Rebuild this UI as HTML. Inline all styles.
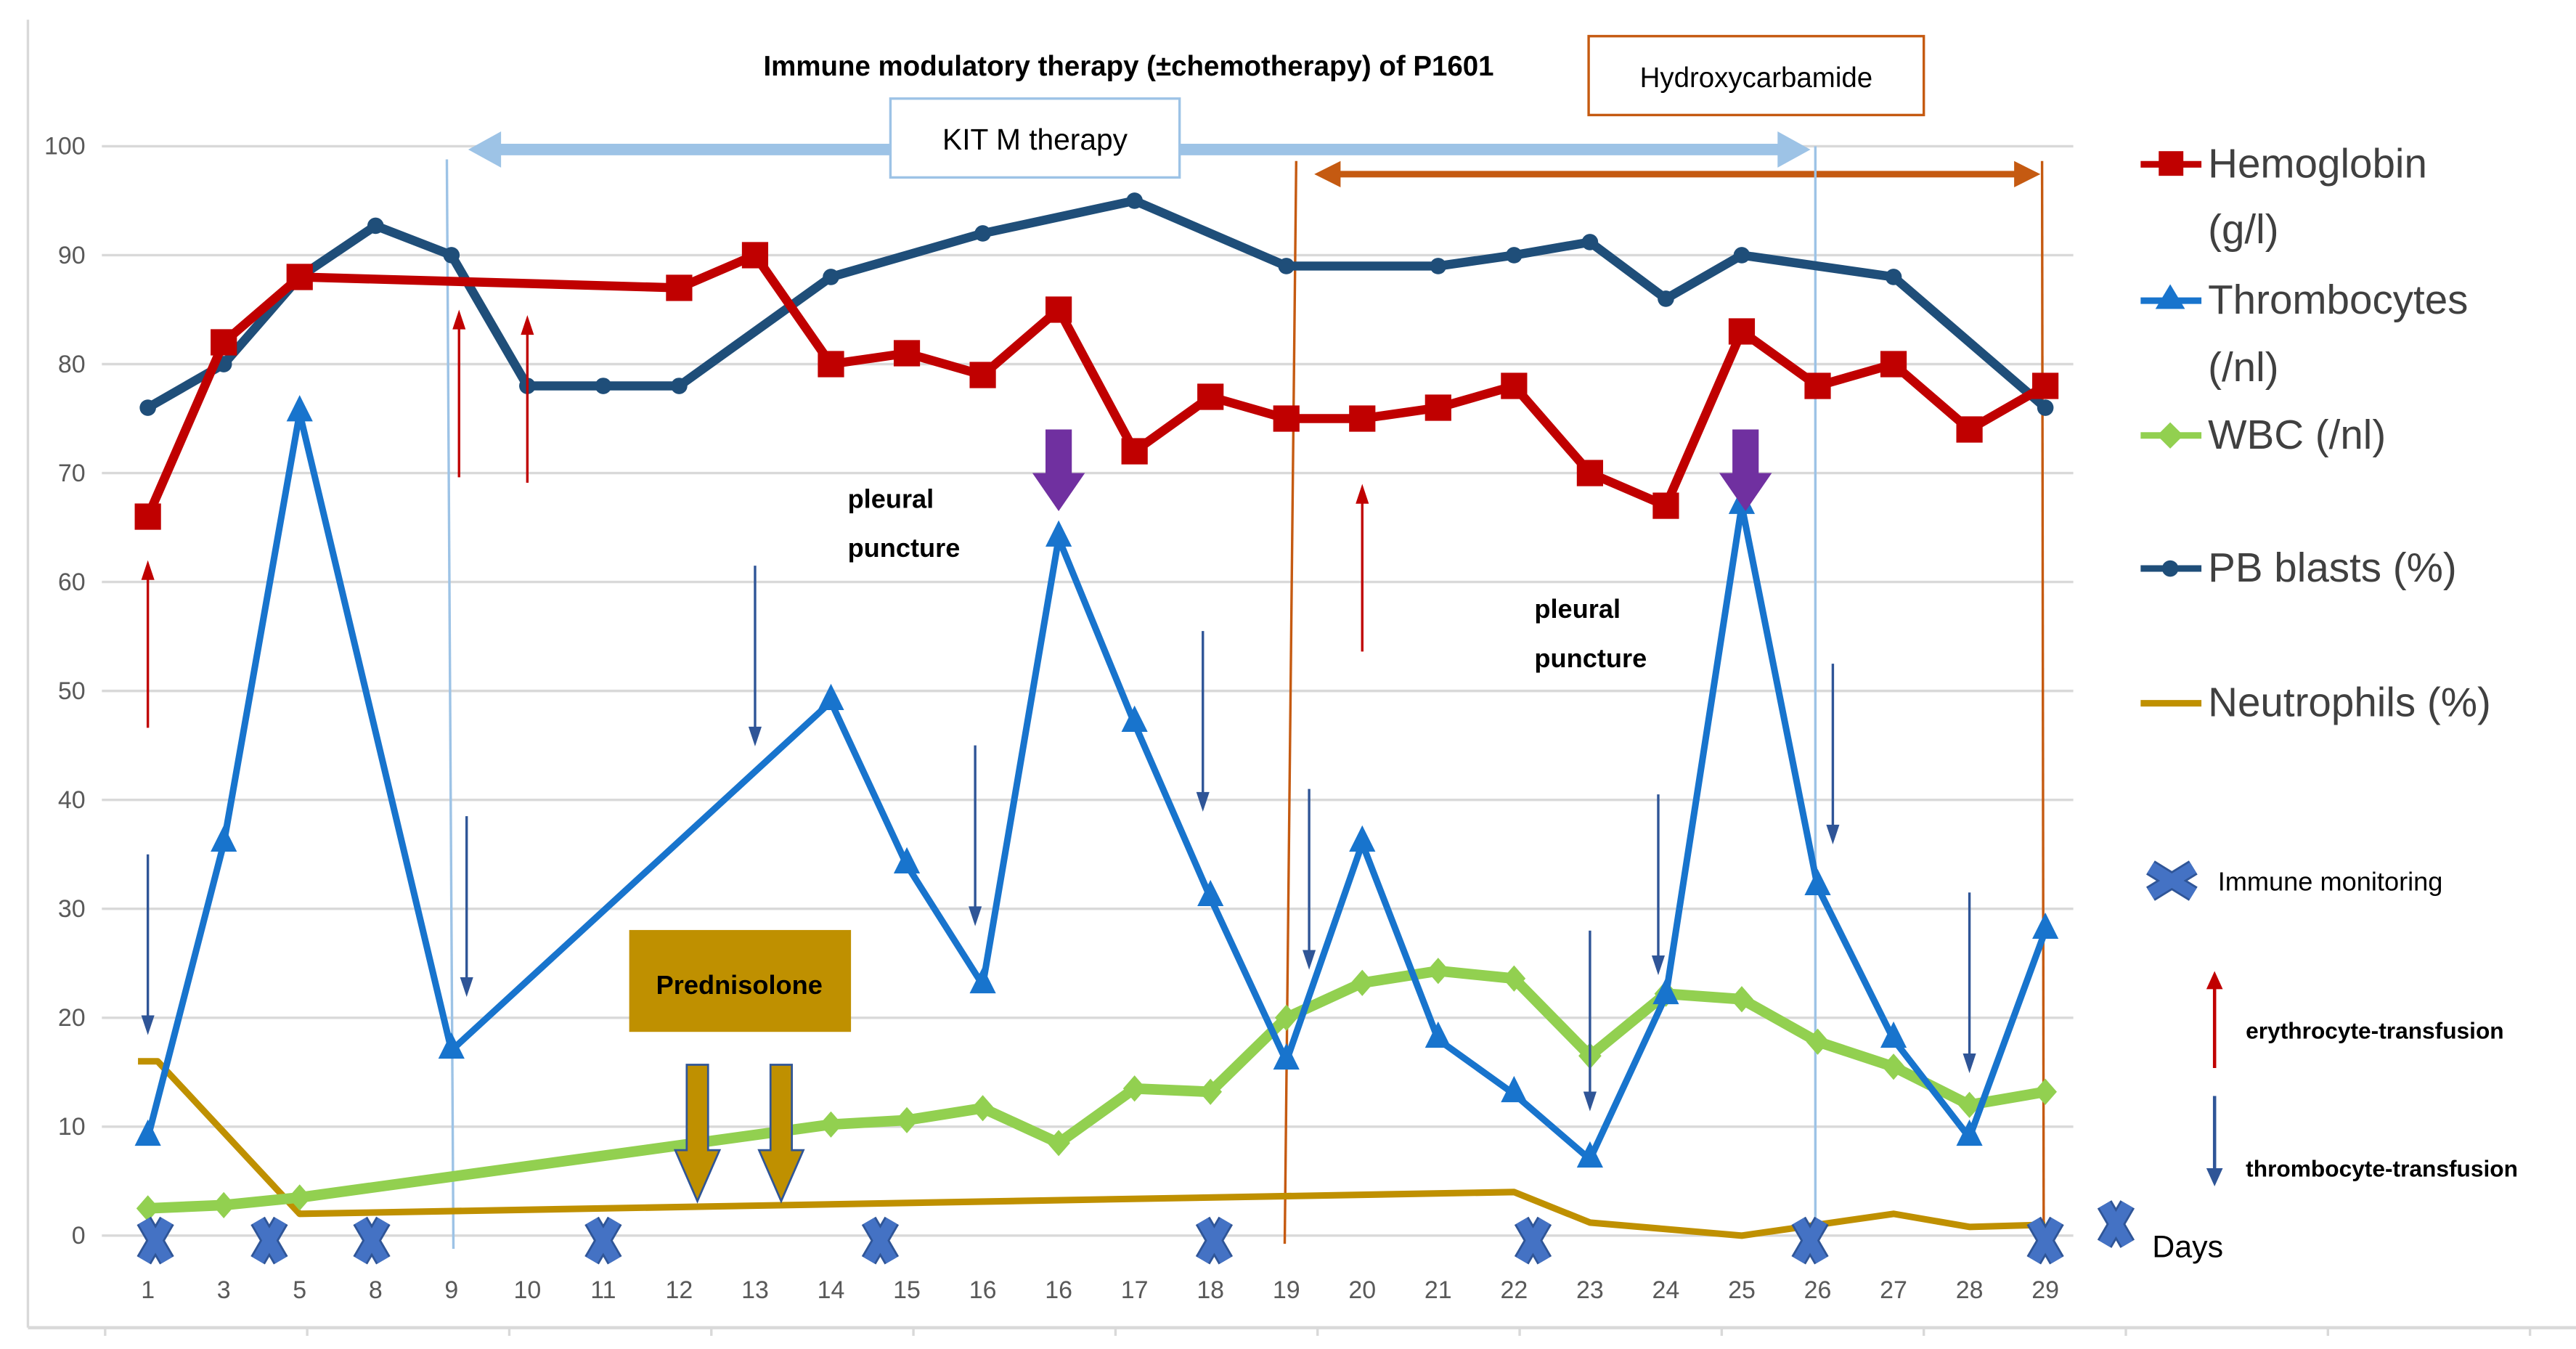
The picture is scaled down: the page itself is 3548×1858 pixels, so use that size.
<!DOCTYPE html>
<html><head><meta charset="utf-8"><style>
html,body{margin:0;padding:0;background:#fff;}
svg{display:block;font-family:"Liberation Sans",sans-serif;}
</style></head><body>
<svg id="chart" width="3548" height="1858" viewBox="0 0 1568 821" preserveAspectRatio="none" xmlns="http://www.w3.org/2000/svg">
<g id="frame">
<line x1="17" y1="12" x2="17" y2="808" stroke="#d9d9d9" stroke-width="1.5"/>
<line x1="17" y1="808" x2="1568" y2="808" stroke="#d9d9d9" stroke-width="2"/>
</g>
<g id="grid"></g>
<g id="yticks"></g>
<g id="xticks"></g>
<text x="687" y="46" text-anchor="middle" font-size="17" font-weight="bold" fill="#000">Immune modulatory therapy (±chemotherapy) of P1601</text>
<g>
<rect x="967" y="22" width="204" height="48" fill="#fff" stroke="#c55a11" stroke-width="1.5"/>
<text x="1069" y="53" text-anchor="middle" font-size="17" fill="#000">Hydroxycarbamide</text>
</g>
<g>
<line x1="300" y1="91" x2="1085" y2="91" stroke="#9dc3e6" stroke-width="7"/>
<polygon points="285,91 305,80 305,102" fill="#9dc3e6"/>
<polygon points="1102,91 1082,80 1082,102" fill="#9dc3e6"/>
</g>
<g>
<rect x="542" y="60" width="176" height="48" fill="#fff" stroke="#9dc3e6" stroke-width="1.5"/>
<text x="630" y="91" text-anchor="middle" font-size="18" fill="#000">KIT M therapy</text>
</g>
<g>
<line x1="812" y1="106" x2="1228" y2="106" stroke="#c55a11" stroke-width="4"/>
<polygon points="800,106 816,98 816,114" fill="#c55a11"/>
<polygon points="1242,106 1226,98 1226,114" fill="#c55a11"/>
</g>
<line x1="272" y1="97" x2="276" y2="760" stroke="#9dc3e6" stroke-width="1.5"/>
<line x1="1105" y1="89" x2="1105" y2="760" stroke="#9dc3e6" stroke-width="1.5"/>
<line x1="789" y1="98" x2="782" y2="757" stroke="#c55a11" stroke-width="1.5"/>
<line x1="1243" y1="98" x2="1244" y2="757" stroke="#c55a11" stroke-width="1.5"/>
<g id="series"></g>
<g id="annot"></g>
<g>
<rect x="383" y="566" width="135" height="62" fill="#bf9000"/>
<text x="450" y="605" text-anchor="middle" font-size="16" font-weight="bold" fill="#000">Prednisolone</text>
</g>
<g>
<polygon points="418,648 431,648 431,700 438,700 424.5,731 411,700 418,700" fill="#bf9000" stroke="#2f5597" stroke-width="1.2"/>
<polygon points="469,648 482,648 482,700 489,700 475.5,731 462,700 469,700" fill="#bf9000" stroke="#2f5597" stroke-width="1.2"/>
</g>
<g font-size="16" font-weight="bold" fill="#000">
<text x="516" y="309">pleural</text><text x="516" y="339">puncture</text>
<text x="934" y="376">pleural</text><text x="934" y="406">puncture</text>
</g>
<g id="legend" font-size="25" fill="#404040">
<g><line x1="1303" y1="100" x2="1340" y2="100" stroke="#c00000" stroke-width="4"/><rect x="1314" y="92" width="15" height="15" fill="#c00000"/><text x="1344" y="108">Hemoglobin</text><text x="1344" y="148">(g/l)</text></g>
<g><line x1="1303" y1="183" x2="1340" y2="183" stroke="#1874cd" stroke-width="4"/><polygon points="1321,173 1330,188 1312,188" fill="#1874cd"/><text x="1344" y="191">Thrombocytes</text><text x="1344" y="232">(/nl)</text></g>
<g><line x1="1303" y1="265" x2="1340" y2="265" stroke="#92d050" stroke-width="4"/><polygon points="1321,257 1329,265 1321,273 1313,265" fill="#92d050"/><text x="1344" y="273">WBC (/nl)</text></g>
<g><line x1="1303" y1="346" x2="1340" y2="346" stroke="#1f4e79" stroke-width="4"/><circle cx="1321" cy="346" r="5" fill="#1f4e79"/><text x="1344" y="354">PB blasts (%)</text></g>
<g><line x1="1303" y1="428" x2="1340" y2="428" stroke="#bf9000" stroke-width="4"/><text x="1344" y="436">Neutrophils (%)</text></g>
<g id="legX"><text x="1350" y="542" font-size="16" fill="#000">Immune monitoring</text></g>
<g><line x1="1348" y1="650" x2="1348" y2="600" stroke="#c00000" stroke-width="2"/><polygon points="1348,591 1343,602 1353,602" fill="#c00000"/><text x="1367" y="632" font-size="14" font-weight="bold" fill="#000">erythrocyte-transfusion</text></g>
<g><line x1="1348" y1="667" x2="1348" y2="712" stroke="#2f5597" stroke-width="2"/><polygon points="1348,722 1343,711 1353,711" fill="#2f5597"/><text x="1367" y="716" font-size="14" font-weight="bold" fill="#000">thrombocyte-transfusion</text></g>
<g id="legDays"><text x="1310" y="765" font-size="19" fill="#000">Days</text></g>
</g>
</svg>
<script>
const categories=["1","3","5","8","9","10","11","12","13","14","15","16","16","17","18","19","20","21","22","23","24","25","26","27","28","29"];
const yTicks=[0,10,20,30,40,50,60,70,80,90,100];
const hemoglobin=[66,82,88,null,null,null,null,87,90,80,81,79,85,72,77,75,75,76,78,70,67,83,78,80,74,78];
const pbBlasts=[76,80,88,92.7,90,78,78,78,null,88,null,92,null,95,null,89,null,89,90,91.2,86,90,null,88,null,76];
const thrombocytes=[9,36,75.5,null,17,null,null,null,null,49,34,23,64,47,31,16,36,18,13,7,22,67,32,18,9,28];
const wbc=[2.5,2.8,3.5,null,null,null,null,null,null,10.2,10.6,11.7,8.5,13.5,13.2,20,23.2,24.3,23.6,16.5,22.2,21.7,17.8,15.5,12,13.2];
const neutrophils=[16,null,2,null,null,null,null,null,null,null,null,null,null,null,null,null,null,null,4,1.2,null,0,1,2,0.8,1];
const immuneMonitoring=[0.1,1.6,2.95,6,9.65,14.05,18.25,21.9,25];
const erythroTransfusion=[0,4.1,5,16];
const thromboTransfusion=[0,4.2,8,10.9,13.9,15.3,19,19.9,22.2,24];

const NS="http://www.w3.org/2000/svg";
function xS(i){return 90+i*46.2;}
function yS(v){return 752-v*6.63;}
function mk(tag,attrs,parent){const e=document.createElementNS(NS,tag);for(const k in attrs)e.setAttribute(k,attrs[k]);parent.appendChild(e);return e;}
const grid=document.getElementById('grid'),yt=document.getElementById('yticks'),xt=document.getElementById('xticks');
yTicks.forEach(t=>{
  const l=mk('line',{x1:62,x2:1262,y1:yS(t),y2:yS(t),stroke:'#d9d9d9','stroke-width':1.5},grid);
  
  
  const tx=mk('text',{x:52,y:yS(t)+5,'text-anchor':'end','font-size':15,fill:'#595959'},yt);
  tx.textContent=t;
  
  
});
categories.forEach((c,i)=>{
  const tx=mk('text',{x:xS(i),y:790,'text-anchor':'middle','font-size':15,fill:'#595959'},xt);
  tx.textContent=c;
  
  
});
[64,187,310,433,556,679,802,925,1048,1171,1294,1417,1540].forEach(x=>{mk('line',{x1:x,x2:x,y1:808,y2:813,stroke:'#d9d9d9','stroke-width':1.5},xt);});
const ser=document.getElementById('series');
function drawSeries(vals,color,w,marker,name){
  const g=mk('g',{},ser);
  
  
  const pts=[];vals.forEach((v,i)=>{if(v!==null)pts.push([xS(i),yS(v)]);});
  if(name==='neutrophils-series'){pts[0][0]=84;pts.splice(1,0,[96,pts[0][1]]);}
  mk('polyline',{points:pts.map(p=>p.join(',')).join(' '),fill:'none',stroke:color,'stroke-width':w,'stroke-linejoin':'round'},g);
  pts.forEach(([x,y])=>{
    let m=null;
    if(marker==='square')m=mk('rect',{x:x-8,y:y-8,width:16,height:16,fill:color},g);
    else if(marker==='tri')m=mk('polygon',{points:`${x},${y-11} ${x+8},${y+5} ${x-8},${y+5}`,fill:color},g);
    else if(marker==='diamond')m=mk('polygon',{points:`${x},${y-8} ${x+7},${y} ${x},${y+8} ${x-7},${y}`,fill:color},g);
    else if(marker==='circle')m=mk('circle',{cx:x,cy:y,r:5,fill:color},g);
    if(m){}
  });
}
drawSeries(neutrophils,'#bf9000',4,null,'neutrophils-series');
drawSeries(wbc,'#92d050',6.5,'diamond','wbc-series');
drawSeries(thrombocytes,'#1874cd',4,'tri','thrombocytes-series');
drawSeries(pbBlasts,'#1f4e79',5.5,'circle','pb-blasts-series');
drawSeries(hemoglobin,'#c00000',5.5,'square','hemoglobin-series');

const an=document.getElementById('annot');
function bigX(x,y,parent,wide){
  const g=mk('g',{},parent);
  const dx=wide?13:7,dy=wide?8:12;
  [[-dx,-dy,dx,dy],[dx,-dy,-dx,dy]].forEach(([a,b,c,d])=>mk('line',{x1:x+a,y1:y+b,x2:x+c,y2:y+d,stroke:'#2f5597','stroke-width':10,'stroke-linecap':'butt'},g));
  [[-dx,-dy,dx,dy],[dx,-dy,-dx,dy]].forEach(([a,b,c,d])=>mk('line',{x1:x+a,y1:y+b,x2:x+c,y2:y+d,stroke:'#4472c4','stroke-width':7.5,'stroke-linecap':'butt'},g));
  return g;
}
immuneMonitoring.forEach(d=>{
  const g=bigX(xS(d),755,an,false);
  
  
});
bigX(1322,536,document.getElementById('legX'),true);
bigX(1288,745,document.getElementById('legDays'),false);
const eryTop=[62,85,84.5,69];
erythroTransfusion.forEach((d,k)=>{
  const x=xS(d),top=yS(eryTop[k]);
  const g=mk('g',{},an);
  
  
  mk('line',{x1:x,y1:top+102,x2:x,y2:top+8,stroke:'#c00000','stroke-width':1.5},g);
  mk('polygon',{points:`${x},${top} ${x-4},${top+12} ${x+4},${top+12}`,fill:'#c00000'},g);
});
const thrTop=[35,38.5,61.5,45,55.5,41,28,40.5,52.5,31.5];
thromboTransfusion.forEach((d,k)=>{
  const x=xS(d),top=yS(thrTop[k]),bot=top+110;
  const g=mk('g',{},an);
  
  
  mk('line',{x1:x,y1:top,x2:x,y2:bot-8,stroke:'#2f5597','stroke-width':1.5},g);
  mk('polygon',{points:`${x},${bot} ${x-4},${bot-12} ${x+4},${bot-12}`,fill:'#2f5597'},g);
});
[12,21.05].forEach(d=>{
  const x=xS(d);
  const g=mk('polygon',{points:`${x-8},${yS(74)} ${x+8},${yS(74)} ${x+8},${yS(70)} ${x+16},${yS(70)} ${x},${yS(66.5)} ${x-16},${yS(70)} ${x-8},${yS(70)}`,fill:'#7030a0'},an);
  
  
});
</script>
</body></html>
